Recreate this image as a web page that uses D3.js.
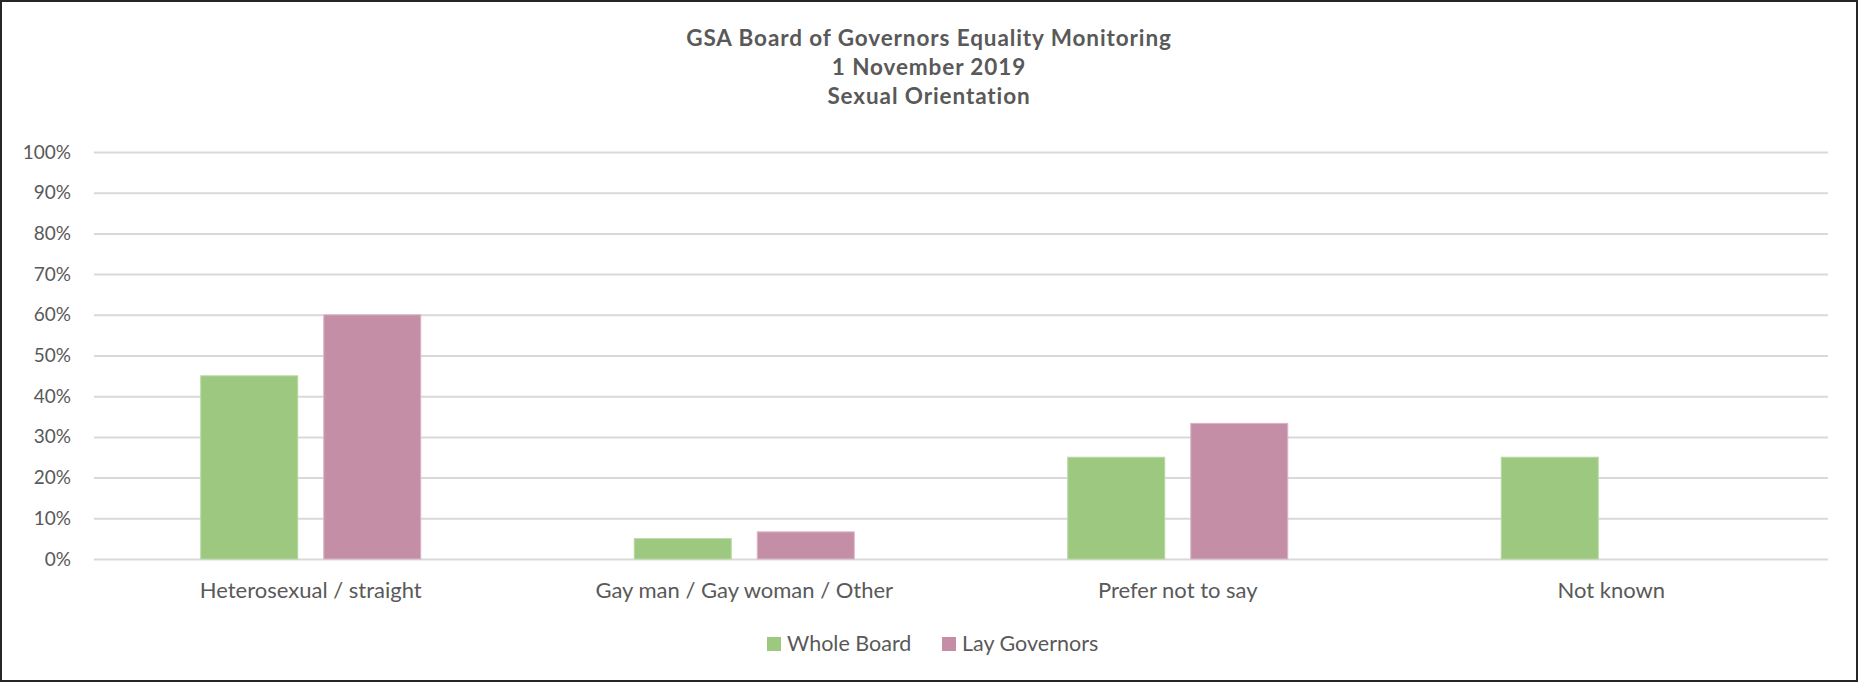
<!DOCTYPE html>
<html>
<head>
<meta charset="utf-8">
<script src="https://cdn.jsdelivr.net/npm/d3@7"></script>
<style>
  body { margin: 0; background: #fff; }
  svg { display: block; font-family: Lato, "Open Sans", sans-serif; }
</style>
</head>
<body>
<svg width="1858" height="682"></svg>
<script>
// chart data
var categories = ["Heterosexual / straight", "Gay man / Gay woman / Other", "Prefer not to say", "Not known"];
var seriesNames = ["Whole Board", "Lay Governors"];
var wholeBoard = [0.45, 0.05, 0.25, 0.25];
var layGovernors = [0.60, 0.0667, 0.3333, 0];
var yTicks = [0, 0.1, 0.2, 0.3, 0.4, 0.5, 0.6, 0.7, 0.8, 0.9, 1];
var titleLines = ["GSA Board of Governors Equality Monitoring", "1 November 2019", "Sexual Orientation"];
var colours = ["#9dc880", "#c48fa6"];
var strokes = ["#b6d8a0", "#d9b6c5"];

var svg = d3.select('svg');
var chartW = 1858, chartH = 682;
// plot area
var plotLeft = 94, plotRight = 1828, plotTop = 152, plotBottom = 559;
var textColour = "#595959";
var fontStack = 'Lato, "Open Sans", sans-serif';

// frame
svg.append('rect')
    .attr('x', 1).attr('y', 1)
    .attr('width', chartW - 2).attr('height', chartH - 2)
    .style('fill', '#fff')
    .style('stroke', '#262626')
    .style('stroke-width', 2);

// title
svg.append('text')
    .attr('text-anchor', 'middle')
    .style('font-weight', 'bold')
    .style('font-size', '22.5px')
    .style('letter-spacing', '0.9px')
    .style('fill', textColour)
    .selectAll('tspan')
    .data(titleLines)
    .join('tspan')
    .attr('x', chartW / 2)
    .attr('y', function(d, i) { return 46 + i * 29; })
    .text(function(d) { return d; });

// scales
var y = d3.scaleLinear().domain([0, 1]).range([plotBottom, plotTop]);
var x0 = d3.scaleBand().domain(categories).range([plotLeft, plotRight]).padding(0);
var x1 = d3.scaleBand().domain(seriesNames).range([0, x0.bandwidth()])
    .paddingInner(0.2114).paddingOuter(0.868);

// y axis with gridlines
var yAxis = svg.append('g')
    .attr('transform', 'translate(' + plotLeft + ',0)')
    .call(d3.axisLeft(y).tickValues(yTicks).tickFormat(d3.format('.0%'))
        .tickSize(-(plotRight - plotLeft)).tickPadding(23));
yAxis.attr('font-family', fontStack).attr('font-size', 19);
yAxis.select('.domain').remove();
yAxis.selectAll('line').style('stroke', '#d9d9d9').style('stroke-width', 2);
yAxis.selectAll('text').style('fill', textColour);

// bars
var rows = categories.map(function(c, i) {
  return { cat: c, vals: [wholeBoard[i], layGovernors[i]] };
});
var groups = svg.append('g').selectAll('g')
    .data(rows)
    .join('g')
    .attr('transform', function(d) { return 'translate(' + x0(d.cat) + ',0)'; });
groups.selectAll('rect')
    .data(function(d) {
      return d.vals.map(function(v, k) { return { s: seriesNames[k], k: k, v: v }; })
        .filter(function(e) { return e.v > 0; });
    })
    .join('rect')
    .attr('x', function(d) { return x1(d.s); })
    .attr('y', function(d) { return y(d.v); })
    .attr('width', x1.bandwidth())
    .attr('height', function(d) { return y(0) - y(d.v); })
    .style('fill', function(d) { return colours[d.k]; })
    .style('stroke', function(d) { return strokes[d.k]; })
    .style('stroke-width', 1);

// x axis labels
var xAxis = svg.append('g')
    .attr('transform', 'translate(0,' + plotBottom + ')')
    .call(d3.axisBottom(x0).tickSize(0).tickPadding(23));
xAxis.attr('font-family', fontStack).attr('font-size', 22);
xAxis.select('.domain').remove();
xAxis.selectAll('text').style('fill', textColour);

// legend
var legendX = [767, 942];
var legend = svg.append('g').selectAll('g')
    .data(seriesNames)
    .join('g')
    .attr('transform', function(d, i) { return 'translate(' + legendX[i] + ',637)'; });
legend.append('rect')
    .attr('width', 14).attr('height', 14)
    .style('fill', function(d, i) { return colours[i]; });
legend.append('text')
    .attr('x', 20).attr('y', 14)
    .style('fill', textColour)
    .style('font-size', '21.5px')
    .text(function(d) { return d; });
</script>
</body>
</html>
